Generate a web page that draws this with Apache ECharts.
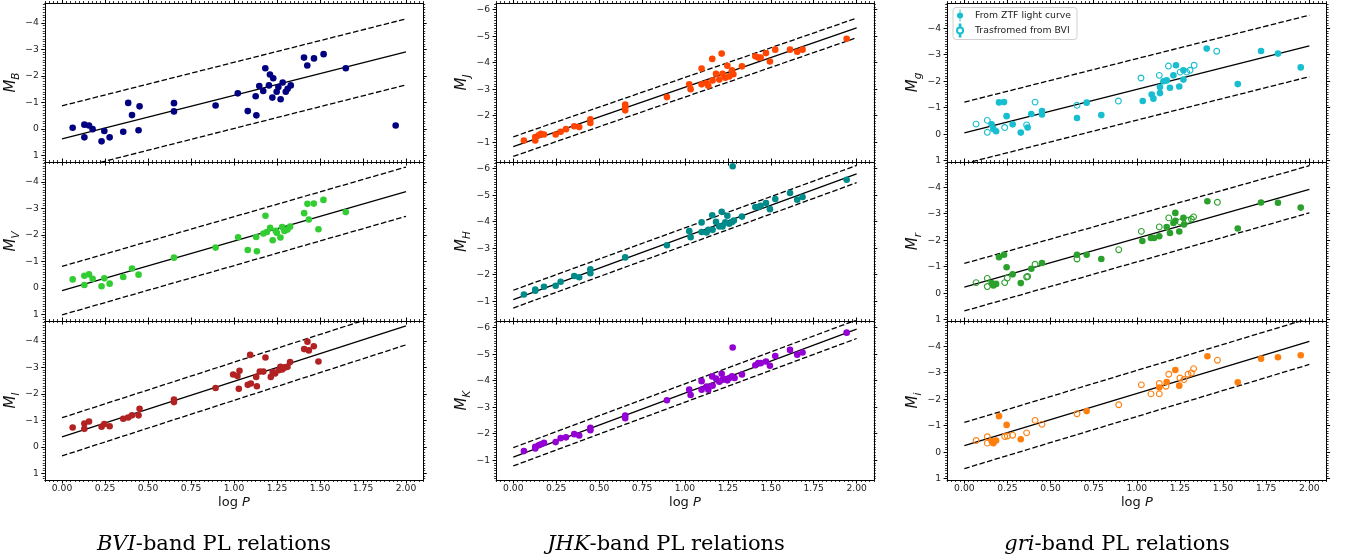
<!DOCTYPE html>
<html><head><meta charset="utf-8">
<script src="https://cdn.jsdelivr.net/npm/echarts@6/dist/echarts.min.js"></script>
<style>html,body{margin:0;padding:0;background:#fff}#c{width:1354px;height:560px}</style>
</head><body><div id="c"></div>
<script>
// ---------- data (logP, absolute magnitude) ----------
const dataB = [[0.062,-0.04],[0.130,-0.16],[0.130,0.32],[0.157,-0.13],[0.178,0.01],[0.230,0.47],[0.246,0.08],[0.277,0.32],[0.356,0.11],[0.385,-0.98],[0.407,-0.52],[0.445,0.05],[0.451,-0.85],[0.651,-0.97],[0.651,-0.66],[0.893,-0.88],[1.022,-1.34],[1.080,-0.67],[1.126,-1.23],[1.130,-0.51],[1.147,-1.62],[1.170,-1.43],[1.182,-2.29],[1.203,-1.64],[1.209,-2.05],[1.223,-1.18],[1.228,-1.91],[1.248,-1.40],[1.258,-1.58],[1.271,-1.12],[1.283,-1.75],[1.301,-1.40],[1.312,-1.51],[1.330,-1.64],[1.407,-2.69],[1.426,-2.39],[1.465,-2.66],[1.521,-2.82],[1.650,-2.29],[1.940,-0.13]];
const dataV = [[0.062,-0.32],[0.130,-0.46],[0.130,-0.11],[0.157,-0.51],[0.178,-0.34],[0.230,-0.06],[0.246,-0.36],[0.277,-0.16],[0.356,-0.41],[0.407,-0.73],[0.445,-0.50],[0.651,-1.14],[0.893,-1.52],[1.024,-1.91],[1.080,-1.43],[1.129,-1.92],[1.133,-1.38],[1.171,-2.05],[1.183,-2.72],[1.191,-2.11],[1.210,-2.27],[1.225,-1.80],[1.243,-2.15],[1.249,-2.08],[1.270,-1.90],[1.280,-2.30],[1.293,-2.15],[1.311,-2.20],[1.326,-2.31],[1.408,-2.82],[1.427,-3.17],[1.435,-2.58],[1.464,-3.18],[1.491,-2.21],[1.520,-3.32],[1.650,-2.86]];
const dataI = [[0.062,-0.73],[0.130,-0.88],[0.130,-0.68],[0.157,-0.96],[0.230,-0.76],[0.246,-0.86],[0.277,-0.78],[0.356,-1.06],[0.385,-1.11],[0.407,-1.19],[0.445,-1.19],[0.451,-1.44],[0.651,-1.79],[0.651,-1.69],[0.893,-2.22],[0.995,-2.73],[1.020,-2.67],[1.032,-2.87],[1.028,-2.19],[1.080,-2.34],[1.094,-3.47],[1.098,-2.39],[1.129,-2.64],[1.133,-2.29],[1.150,-2.84],[1.171,-2.84],[1.183,-3.37],[1.214,-2.64],[1.225,-2.82],[1.239,-2.77],[1.260,-2.89],[1.270,-3.02],[1.280,-2.92],[1.293,-2.99],[1.311,-3.02],[1.326,-3.20],[1.408,-3.69],[1.427,-3.97],[1.435,-3.64],[1.464,-3.80],[1.491,-3.22]];
const dataJ = [[0.062,-1.06],[0.128,-1.19],[0.128,-1.06],[0.148,-1.26],[0.161,-1.31],[0.179,-1.29],[0.247,-1.29],[0.276,-1.39],[0.307,-1.49],[0.355,-1.60],[0.384,-1.57],[0.449,-1.86],[0.449,-1.72],[0.652,-2.42],[0.652,-2.32],[0.652,-2.20],[0.895,-2.70],[1.025,-3.18],[1.033,-3.00],[1.097,-3.78],[1.097,-3.18],[1.126,-3.23],[1.136,-3.13],[1.159,-4.14],[1.161,-3.33],[1.181,-3.58],[1.200,-3.36],[1.214,-4.34],[1.219,-3.58],[1.235,-3.43],[1.247,-3.88],[1.258,-3.48],[1.274,-3.71],[1.282,-3.56],[1.332,-3.86],[1.410,-4.24],[1.427,-4.19],[1.441,-4.19],[1.472,-4.36],[1.495,-4.04],[1.526,-4.49],[1.612,-4.49],[1.654,-4.41],[1.685,-4.49],[1.942,-4.90]];
const dataH = [[0.062,-1.25],[0.128,-1.44],[0.128,-1.39],[0.179,-1.54],[0.247,-1.58],[0.276,-1.73],[0.355,-1.95],[0.384,-1.90],[0.449,-2.20],[0.449,-2.05],[0.652,-2.65],[0.895,-3.11],[1.025,-3.64],[1.033,-3.41],[1.097,-3.97],[1.097,-3.61],[1.126,-3.59],[1.136,-3.69],[1.159,-4.24],[1.161,-3.69],[1.181,-3.99],[1.200,-3.82],[1.214,-4.37],[1.219,-3.82],[1.235,-3.97],[1.247,-4.22],[1.258,-3.92],[1.274,-3.99],[1.278,-6.09],[1.285,-4.04],[1.332,-4.19],[1.410,-4.55],[1.427,-4.55],[1.441,-4.60],[1.472,-4.70],[1.495,-4.47],[1.526,-4.85],[1.612,-5.08],[1.654,-4.83],[1.685,-4.93],[1.942,-5.58]];
const dataK = [[0.062,-1.34],[0.128,-1.44],[0.128,-1.50],[0.148,-1.56],[0.161,-1.60],[0.179,-1.65],[0.247,-1.68],[0.276,-1.83],[0.307,-1.86],[0.355,-1.98],[0.384,-1.93],[0.449,-2.22],[0.449,-2.13],[0.652,-2.68],[0.652,-2.58],[0.895,-3.26],[1.025,-3.66],[1.033,-3.46],[1.097,-3.98],[1.097,-3.66],[1.126,-3.78],[1.136,-3.66],[1.159,-4.16],[1.161,-3.81],[1.181,-4.08],[1.200,-3.96],[1.214,-4.26],[1.219,-4.03],[1.235,-4.06],[1.247,-4.01],[1.258,-4.10],[1.274,-4.16],[1.278,-5.25],[1.289,-4.10],[1.332,-4.23],[1.410,-4.58],[1.427,-4.66],[1.441,-4.66],[1.472,-4.72],[1.495,-4.56],[1.526,-4.93],[1.612,-5.16],[1.654,-4.98],[1.685,-5.06],[1.942,-5.81]];
const gZTF = [[0.158,-0.37],[0.168,-0.20],[0.184,-0.11],[0.201,-1.20],[0.230,-1.21],[0.245,-0.68],[0.280,-0.37],[0.327,-0.06],[0.367,-0.25],[0.388,-0.76],[0.450,-0.74],[0.450,-0.87],[0.653,-0.61],[0.709,-1.19],[0.794,-0.72],[1.034,-1.25],[1.086,-1.50],[1.096,-1.34],[1.134,-1.55],[1.134,-1.78],[1.154,-2.00],[1.173,-2.03],[1.192,-1.75],[1.212,-2.22],[1.227,-2.60],[1.246,-1.80],[1.270,-2.41],[1.270,-2.06],[1.405,-3.23],[1.585,-1.89],[1.720,-3.14],[1.818,-3.04],[1.950,-2.52]];
const gBVI = [[0.068,-0.38],[0.133,-0.52],[0.133,-0.07],[0.234,-0.25],[0.361,-0.35],[0.410,-1.21],[0.653,-1.09],[0.893,-1.25],[1.024,-2.12],[1.130,-2.22],[1.183,-2.57],[1.251,-2.34],[1.289,-2.34],[1.308,-2.41],[1.332,-2.60],[1.463,-3.13]];
const rZTF = [[0.158,-0.38],[0.168,-0.29],[0.184,-0.35],[0.201,-1.36],[0.230,-1.45],[0.245,-0.98],[0.280,-0.71],[0.327,-0.38],[0.388,-0.92],[0.450,-1.14],[0.653,-1.45],[0.709,-1.45],[0.794,-1.29],[1.032,-1.97],[1.082,-2.08],[1.100,-2.08],[1.130,-2.15],[1.173,-2.50],[1.192,-2.27],[1.212,-2.65],[1.223,-3.03],[1.223,-2.73],[1.246,-2.33],[1.270,-2.84],[1.273,-2.59],[1.409,-3.47],[1.585,-2.44],[1.720,-3.42],[1.818,-3.41],[1.950,-3.23]];
const rBVI = [[0.068,-0.40],[0.133,-0.56],[0.133,-0.25],[0.234,-0.40],[0.249,-0.57],[0.361,-0.61],[0.367,-0.63],[0.410,-1.09],[0.653,-1.29],[0.895,-1.64],[1.026,-2.33],[1.130,-2.50],[1.185,-2.84],[1.250,-2.69],[1.297,-2.75],[1.316,-2.80],[1.329,-2.88],[1.467,-3.43]];
const iZTF = [[0.158,-0.42],[0.168,-0.34],[0.184,-0.44],[0.201,-1.36],[0.245,-1.03],[0.327,-0.49],[0.709,-1.55],[1.130,-2.44],[1.173,-2.65],[1.223,-3.10],[1.246,-2.51],[1.409,-3.62],[1.585,-2.64],[1.720,-3.53],[1.818,-3.58],[1.950,-3.66]];
const iBVI = [[0.068,-0.44],[0.133,-0.58],[0.133,-0.34],[0.234,-0.59],[0.249,-0.61],[0.280,-0.64],[0.361,-0.73],[0.410,-1.20],[0.450,-1.05],[0.653,-1.45],[0.895,-1.79],[1.026,-2.54],[1.082,-2.20],[1.130,-2.20],[1.130,-2.59],[1.169,-2.49],[1.185,-2.94],[1.250,-2.80],[1.273,-2.74],[1.297,-2.94],[1.316,-2.99],[1.329,-3.15],[1.467,-3.47]];

// PL relation lines: [fit, upper, lower], each = [M at logP=0, M at logP=2]
const lineX = [0, 2];
const linesB = [[0.38,-2.91],[-0.87,-4.15],[1.63,-1.66]];
const linesV = [[0.10,-3.63],[-0.81,-4.56],[1.02,-2.70]];
const linesI = [[-0.38,-4.57],[-1.10,-5.29],[0.34,-3.85]];
const linesJ = [[-0.83,-5.31],[-1.20,-5.68],[-0.46,-4.94]];
const linesH = [[-1.06,-5.80],[-1.41,-6.12],[-0.74,-5.47]];
const linesK = [[-1.11,-5.94],[-1.47,-6.29],[-0.78,-5.59]];
const linesG = [[-0.05,-3.33],[-1.21,-4.49],[1.11,-2.17]];
const linesR = [[-0.23,-3.92],[-1.12,-4.81],[0.67,-3.03]];
const linesIi = [[-0.25,-4.18],[-1.12,-5.05],[0.62,-3.31]];

// ticks
const xMajor = [0, 0.25, 0.5, 0.75, 1, 1.25, 1.5, 1.75, 2];
const yMajorBVI = [-4, -3, -2, -1, 0, 1];
const yMajorJHK = [-6, -5, -4, -3, -2, -1];
const yMajorGRI = [-4, -3, -2, -1, 0, 1];
const xRange = [-0.1, 2.1];
const yRangeBVI = [-4.75, 1.25];
const yRangeJHK = [-6.25, -0.25];
const yRangeGRI = [-4.95, 1.05];
const captions = ['BVI', 'JHK', 'gri'];
const legendNames = ['From ZTF light curve', 'Trasfromed from BVI'];

// ---------- layout ----------
const colLeft = [44.8, 496.1, 947.1], colW = [378.4, 377.7, 379.5];
const rowTop = [3, 162, 321], rowH = 159;
const yMajors = [yMajorBVI, yMajorJHK, yMajorGRI];
const yRanges = [yRangeBVI, yRangeJHK, yRangeGRI];
const captionX = [214, 666, 1117];

const panels = [
  {col:0,row:0,sub:'B',lines:linesB,sets:[{d:dataB,c:'#000080',n:'B'}]},
  {col:0,row:1,sub:'V',lines:linesV,sets:[{d:dataV,c:'#32cd32',n:'V'}]},
  {col:0,row:2,sub:'I',lines:linesI,sets:[{d:dataI,c:'#b22222',n:'I'}]},
  {col:1,row:0,sub:'J',lines:linesJ,sets:[{d:dataJ,c:'#ff4500',n:'J'}]},
  {col:1,row:1,sub:'H',lines:linesH,sets:[{d:dataH,c:'#008b8b',n:'H'}]},
  {col:1,row:2,sub:'K',lines:linesK,sets:[{d:dataK,c:'#9400d3',n:'K'}]},
  {col:2,row:0,sub:'g',lines:linesG,sets:[{d:gZTF,c:'#17becf',n:legendNames[0]},{d:gBVI,c:'#17becf',n:legendNames[1],open:true}]},
  {col:2,row:1,sub:'r',lines:linesR,sets:[{d:rZTF,c:'#2ca02c',n:'r ZTF'},{d:rBVI,c:'#2ca02c',n:'r BVI',open:true}]},
  {col:2,row:2,sub:'i',lines:linesIi,sets:[{d:iZTF,c:'#ff7f0e',n:'i ZTF'},{d:iBVI,c:'#ff7f0e',n:'i BVI',open:true}]}
];

function steps(a, b, s) {
  const r = [];
  for (let k = Math.ceil(a / s - 1e-9); k * s <= b + 1e-9; k++) r.push(+(k * s).toFixed(4));
  return r;
}
const fmtY = v => (v < 0 ? '\u2212' : '') + Math.abs(v);
const tickStyle = {color:'#000', width:1};
const minorStyle = {color:'#000', width:0.8};

const grids = [], xAxes = [], yAxes = [], series = [];
const xMinor = steps(xRange[0], xRange[1], 0.025);

panels.forEach((p, gi) => {
  grids.push({left:colLeft[p.col], top:rowTop[p.row], width:colW[p.col], height:rowH, show:false, containLabel:false});
  const yr = yRanges[p.col], yMaj = yMajors[p.col], yMin = steps(yr[0], yr[1], 0.1);
  const line = {show:true, onZero:false, lineStyle:{color:'#000', width:1}};
  const noLine = {show:false, onZero:false};
  const xb = {gridIndex:gi, type:'value', min:xRange[0], max:xRange[1], splitLine:{show:false}};
  const yb = {gridIndex:gi, type:'value', min:yr[0], max:yr[1], inverse:true, splitLine:{show:false}};
  const xi = xAxes.length, yi = yAxes.length;
  xAxes.push(Object.assign({}, xb, {position:'bottom', axisLine:line,
    axisTick:{show:true, customValues:xMajor, length:3.5, lineStyle:tickStyle},
    axisLabel:{show:p.row === 2, customValues:xMajor, formatter:v => v.toFixed(2), fontSize:9.2, color:'#222', margin:4, fontFamily:'DejaVu Sans'},
    name: p.row === 2 ? '{a|log }{b|P}' : '', nameLocation:'middle', nameGap:16,
    nameTextStyle:{rich:{a:{fontSize:13, color:'#111', fontFamily:'DejaVu Sans'}, b:{fontSize:13, fontStyle:'italic', color:'#111', fontFamily:'DejaVu Sans'}}}}));
  xAxes.push(Object.assign({}, xb, {position:'bottom', axisLine:noLine, axisTick:{show:true, customValues:xMinor, length:2, lineStyle:minorStyle}, axisLabel:{show:false}}));
  xAxes.push(Object.assign({}, xb, {position:'top', axisLine:line, axisTick:{show:true, customValues:xMajor, length:3.5, lineStyle:tickStyle}, axisLabel:{show:false}}));
  xAxes.push(Object.assign({}, xb, {position:'top', axisLine:noLine, axisTick:{show:true, customValues:xMinor, length:2, lineStyle:minorStyle}, axisLabel:{show:false}}));

  yAxes.push(Object.assign({}, yb, {position:'left', axisLine:line,
    axisTick:{show:true, customValues:yMaj, length:3.5, lineStyle:tickStyle},
    axisLabel:{show:true, customValues:yMaj, formatter:fmtY, fontSize:9.2, color:'#222', margin:6, fontFamily:'DejaVu Sans'},
    name:'{m|M}{s|' + p.sub + '}', nameLocation:'middle', nameRotate:90, nameGap:21,
    nameTextStyle:{rich:{m:{fontSize:15, fontStyle:'italic', color:'#111', fontFamily:'DejaVu Sans', lineHeight:15, verticalAlign:'top'},
                         s:{fontSize:10.5, fontStyle:'italic', color:'#111', fontFamily:'DejaVu Sans', lineHeight:11, padding:[7,0,0,0], verticalAlign:'top'}}}}));
  yAxes.push(Object.assign({}, yb, {position:'left', axisLine:noLine, axisTick:{show:true, customValues:yMin, length:2, lineStyle:minorStyle}, axisLabel:{show:false}}));
  yAxes.push(Object.assign({}, yb, {position:'right', axisLine:line, axisTick:{show:true, customValues:yMaj, length:3.5, lineStyle:tickStyle}, axisLabel:{show:false}}));
  yAxes.push(Object.assign({}, yb, {position:'right', axisLine:noLine, axisTick:{show:true, customValues:yMin, length:2, lineStyle:minorStyle}, axisLabel:{show:false}}));

  p.lines.forEach((L, k) => {
    series.push({type:'line', xAxisIndex:xi, yAxisIndex:yi, silent:true, symbol:'none', clip:true, z:2,
      data: lineX.map((x, j) => [x, L[j]]),
      lineStyle:{color:'#000', width:1.3, type: k === 0 ? 'solid' : [5.5, 2.4]}});
  });
  p.sets.forEach(s => {
    series.push({type:'scatter', name:s.n, xAxisIndex:xi, yAxisIndex:yi, data:s.d, z:3, clip:true,
      symbol:'circle', symbolSize: s.open ? 5.8 : 6.6,
      itemStyle: s.open ? {color:'rgba(255,255,255,0)', borderColor:s.c, borderWidth:1.1, opacity:1} : {color:s.c, opacity:1}});
  });
});

const iconFilled = 'path://M4.5,0H5.5V13H4.5Z M8.3,6.5A3.3,3.3,0,1,1,1.7,6.5A3.3,3.3,0,1,1,8.3,6.5Z';
const iconOpen = 'path://M4.6,0H5.4V3.2H4.6Z M4.6,9.8H5.4V13H4.6Z M8.3,6.5A3.3,3.3,0,1,1,1.7,6.5A3.3,3.3,0,1,1,8.3,6.5Z';

const graphics = captions.map((c, i) => ({
  type:'text', x:captionX[i], y:545, silent:true,
  style:{text:'{i|' + c + '}{n|-band PL relations}', align:'center', verticalAlign:'middle',
    rich:{i:{fontStyle:'italic', fontFamily:'DejaVu Serif', fontSize:21, fill:'#000'},
          n:{fontFamily:'DejaVu Serif', fontSize:21, fill:'#000'}}}
}));

const chart = echarts.init(document.getElementById('c'), null, {renderer:'canvas'});
chart.setOption({
  animation:false,
  backgroundColor:'#fff',
  textStyle:{fontFamily:'DejaVu Sans'},
  grid:grids, xAxis:xAxes, yAxis:yAxes, series:series,
  legend:{left:953, top:7.5, orient:'vertical', itemWidth:20, itemHeight:12, itemGap:2,
    padding:[2,6,2,3], borderColor:'#d0d0d0', borderWidth:1, borderRadius:3, backgroundColor:'rgba(255,255,255,0.8)',
    textStyle:{fontSize:9.3, color:'#222', fontFamily:'DejaVu Sans'},
    selectedMode:false,
    data:[{name:legendNames[0], icon:iconFilled}, {name:legendNames[1], icon:iconOpen}]},
  graphic:graphics
});
</script></body></html>
